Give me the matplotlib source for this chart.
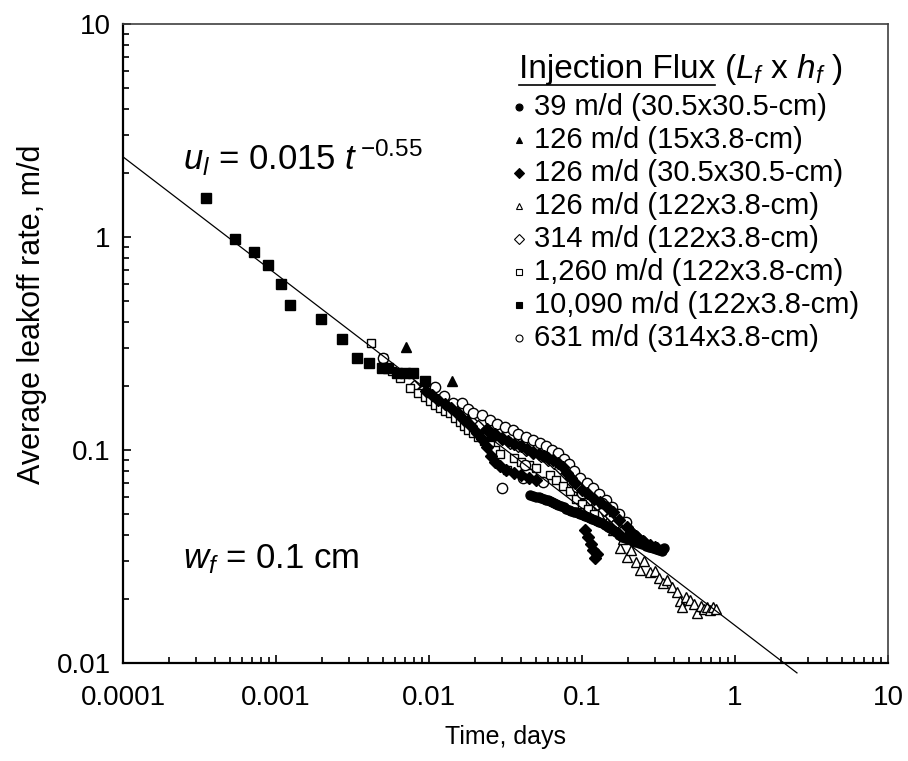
import numpy as np
import matplotlib
matplotlib.use("Agg")
import matplotlib.pyplot as plt

plt.rcParams['font.family'] = ['Liberation Sans', 'DejaVu Sans']
plt.rcParams['mathtext.fontset'] = 'custom'
plt.rcParams['mathtext.rm'] = 'Liberation Sans'
plt.rcParams['mathtext.it'] = 'Liberation Sans:italic'
plt.rcParams['mathtext.bf'] = 'Liberation Sans:bold'

# fitted power law u = a * t^b
fit_a = 0.015
fit_b = -0.55
fit_t_range = [1e-4, 2.54]

# 39 m/d (30.5x30.5-cm) - filled circles
t_39 = [0.046, 0.048, 0.050, 0.052, 0.054, 0.056, 0.058, 0.060, 0.062, 0.064,
        0.066, 0.068, 0.070, 0.073, 0.076, 0.079, 0.082, 0.085, 0.088, 0.091,
        0.094, 0.097, 0.101, 0.105, 0.109, 0.113, 0.117, 0.121, 0.125, 0.130,
        0.135, 0.141, 0.147, 0.153, 0.159, 0.166, 0.174, 0.183, 0.192, 0.201,
        0.211, 0.222, 0.234, 0.247, 0.260, 0.274, 0.289, 0.305, 0.320, 0.335, 0.345]
u_39 = [0.0615, 0.061, 0.0604, 0.060, 0.0596, 0.0591, 0.0585, 0.058, 0.0574, 0.0569,
        0.0564, 0.0558, 0.0552, 0.0545, 0.0538, 0.0531, 0.0524, 0.0518, 0.0513, 0.0509,
        0.0505, 0.0501, 0.0496, 0.0491, 0.0486, 0.0481, 0.0476, 0.0471, 0.0466, 0.0459,
        0.0452, 0.0444, 0.0436, 0.0428, 0.0419, 0.041, 0.0401, 0.0392, 0.0386, 0.0381,
        0.0376, 0.0371, 0.0366, 0.036, 0.0356, 0.0352, 0.0348, 0.0344, 0.034, 0.0337, 0.0345]

# 126 m/d (15x3.8-cm) - filled triangles
t_126a = [0.00708, 0.0141, 0.018, 0.025]
u_126a = [0.305, 0.211, 0.14, 0.118]

# 126 m/d (30.5x30.5-cm) - filled diamonds
t_126b = [0.0095, 0.0105, 0.0115, 0.0127, 0.014, 0.0155, 0.017, 0.0188, 0.0205, 0.0222,
          0.0239, 0.0255, 0.027, 0.029, 0.032, 0.036, 0.040, 0.045, 0.050,
          0.024, 0.027, 0.030, 0.033, 0.036, 0.040, 0.044, 0.048, 0.052, 0.056,
          0.060, 0.065, 0.070, 0.075, 0.080, 0.085, 0.090, 0.100, 0.107, 0.120,
          0.131, 0.145, 0.159, 0.175, 0.196, 0.210, 0.226, 0.250, 0.278, 0.300,
          0.105, 0.110, 0.114, 0.118, 0.1216, 0.125]
u_126b = [0.19, 0.181, 0.172, 0.165, 0.157, 0.148, 0.139, 0.130, 0.120, 0.112,
          0.103, 0.094, 0.0876, 0.084, 0.0805, 0.078, 0.076, 0.0735, 0.0723,
          0.125, 0.119, 0.114, 0.110, 0.107, 0.104, 0.101, 0.098, 0.096, 0.094,
          0.092, 0.090, 0.087, 0.083, 0.078, 0.074, 0.070, 0.065, 0.0625, 0.059,
          0.057, 0.054, 0.051, 0.047, 0.0435, 0.041, 0.0394, 0.0375, 0.0358, 0.035,
          0.042, 0.039, 0.036, 0.034, 0.031, 0.0325]

# 126 m/d (122x3.8-cm) - open triangles
t_126c = [0.095, 0.105, 0.115, 0.13, 0.145, 0.16, 0.177, 0.185, 0.197, 0.21, 0.226, 0.24, 0.255,
          0.28, 0.30, 0.32, 0.338, 0.36, 0.39, 0.42, 0.44, 0.451, 0.48, 0.51, 0.54, 0.565, 0.60,
          0.63, 0.66, 0.69, 0.72, 0.75]
u_126c = [0.062, 0.058, 0.054, 0.050, 0.046, 0.042, 0.0347, 0.038, 0.0315, 0.034, 0.0298, 0.0273,
          0.030, 0.0268, 0.027, 0.025, 0.0237, 0.0245, 0.0228, 0.0216, 0.0195, 0.0183, 0.0205,
          0.0197, 0.019, 0.0172, 0.0185, 0.018, 0.0183, 0.0178, 0.0183, 0.018]

# 314 m/d (122x3.8-cm) - open diamonds
t_314 = [0.008, 0.009, 0.010, 0.0115, 0.013, 0.015, 0.017, 0.019, 0.021, 0.024, 0.027, 0.030,
         0.034, 0.038, 0.043, 0.048, 0.054, 0.060, 0.066, 0.072, 0.079, 0.086, 0.094, 0.103,
         0.113, 0.125, 0.14, 0.155, 0.17, 0.19, 0.21, 0.23, 0.255, 0.28, 0.31]
u_314 = [0.20, 0.19, 0.182, 0.172, 0.162, 0.152, 0.143, 0.136, 0.130, 0.124, 0.117, 0.112,
         0.108, 0.104, 0.100, 0.097, 0.094, 0.090, 0.087, 0.082, 0.077, 0.071, 0.066, 0.062,
         0.059, 0.056, 0.052, 0.049, 0.046, 0.043, 0.041, 0.039, 0.037, 0.0355, 0.0345]

# 1,260 m/d (122x3.8-cm) - open squares
t_1260 = [0.0042, 0.005, 0.0057, 0.0065, 0.0075, 0.0085, 0.0094, 0.0102, 0.0109, 0.0118, 0.0128,
          0.0137, 0.0148, 0.016, 0.017, 0.018, 0.0195, 0.021, 0.023, 0.025, 0.027, 0.029, 0.0324,
          0.036, 0.040, 0.045, 0.050, 0.057, 0.062, 0.068, 0.075, 0.083, 0.092, 0.10, 0.11, 0.12,
          0.159]
u_1260 = [0.317, 0.27, 0.235, 0.217, 0.195, 0.185, 0.178, 0.170, 0.163, 0.157, 0.152,
          0.149, 0.142, 0.136, 0.130, 0.124, 0.120, 0.115, 0.110, 0.106, 0.100, 0.096, 0.0805,
          0.092, 0.088, 0.085, 0.082, 0.0937, 0.076, 0.072, 0.068, 0.064, 0.059, 0.056, 0.053, 0.050,
          0.0512]

# 10,090 m/d (122x3.8-cm) - filled squares
t_10090 = [3.5e-4, 5.4e-4, 7.2e-4, 8.8e-4, 1.07e-3, 1.24e-3, 1.96e-3, 2.68e-3, 3.37e-3, 4.05e-3,
           4.9e-3, 5.4e-3, 6.2e-3, 7.0e-3, 7.9e-3, 9.4e-3]
u_10090 = [1.52, 0.975, 0.85, 0.735, 0.60, 0.48, 0.41, 0.333, 0.271, 0.255,
           0.243, 0.242, 0.231, 0.23, 0.23, 0.211]

# 631 m/d (314x3.8-cm) - open circles
t_631 = [0.005, 0.0109, 0.0125, 0.0144, 0.0164, 0.018, 0.0194, 0.0221, 0.025, 0.028,
         0.0314, 0.0352, 0.0382, 0.043, 0.048, 0.053, 0.058, 0.064, 0.070, 0.076,
         0.082, 0.089, 0.097, 0.107, 0.118, 0.13, 0.143, 0.158, 0.175, 0.195,
         0.030, 0.0424, 0.041, 0.0556, 0.0927, 0.100, 0.135]
u_631 = [0.27, 0.197, 0.18, 0.167, 0.166, 0.155, 0.149, 0.146, 0.138, 0.132,
         0.128, 0.124, 0.119, 0.115, 0.111, 0.108, 0.104, 0.100, 0.097, 0.091,
         0.086, 0.080, 0.074, 0.070, 0.066, 0.062, 0.058, 0.054, 0.050, 0.046,
         0.0664, 0.085, 0.0735, 0.0708, 0.0668, 0.063, 0.0564]

labels = ['39 m/d (30.5x30.5-cm)', '126 m/d (15x3.8-cm)', '126 m/d (30.5x30.5-cm)',
          '126 m/d (122x3.8-cm)', '314 m/d (122x3.8-cm)', '1,260 m/d (122x3.8-cm)',
          '10,090 m/d (122x3.8-cm)', '631 m/d (314x3.8-cm)']

# marker, face colour, size, drawing order
series = [
    (t_39, u_39, 'o', 'black', 6.5, 4),
    (t_126a, u_126a, '^', 'black', 7.5, 3),
    (t_126b, u_126b, 'D', 'black', 5.8, 5),
    (t_126c, u_126c, '^', 'white', 7.5, 2),
    (t_314, u_314, 'D', 'white', 5.8, 2),
    (t_1260, u_1260, 's', 'white', 6.2, 2),
    (t_10090, u_10090, 's', 'black', 7.2, 3),
    (t_631, u_631, 'o', 'white', 7.4, 2),
]

fig = plt.figure(figsize=(9.08, 7.61), dpi=100)
ax = fig.add_axes([0.1355, 0.1288, 0.8425, 0.8397])

for t, u, mk, fc, ms, z in series:
    ax.plot(t, u, ls='none', marker=mk, ms=ms, mfc=fc, mec='black', mew=1.0, zorder=z)

tf = np.array(fit_t_range)
ax.plot(tf, fit_a * tf ** fit_b, color='black', lw=0.9, zorder=6, clip_on=False)

ax.set_xscale('log')
ax.set_yscale('log')
ax.set_xlim(1e-4, 10)
ax.set_ylim(0.01, 10)
ax.set_xticks([1e-4, 1e-3, 1e-2, 0.1, 1, 10])
ax.set_xticklabels(['0.0001', '0.001', '0.01', '0.1', '1', '10'])
ax.set_yticks([0.01, 0.1, 1, 10])
ax.set_yticklabels(['0.01', '0.1', '1', '10'])
ax.tick_params(which='both', direction='in', top=False, right=False, width=1.2)
ax.tick_params(which='major', length=6)
ax.tick_params(which='minor', length=4.5)
ax.tick_params(axis='x', which='major', labelsize=20, pad=16)
ax.tick_params(axis='y', which='major', labelsize=20, pad=9)
ax.tick_params(which='minor', labelleft=False, labelbottom=False)

for s in ['left', 'bottom']:
    ax.spines[s].set_linewidth(1.6)
for s in ['top', 'right']:
    ax.spines[s].set_linewidth(1.2)
    ax.spines[s].set_color('#404040')

ax.set_xlabel('Time, days', fontsize=18, labelpad=10)
ax.set_ylabel('Average leakoff rate, m/d', fontsize=22)
ax.yaxis.set_label_coords(-0.1, 0.545)

# equation and fracture width
ax.text(0.078, 0.7715, r'$u_l$ = 0.015 $t^{\,\mathrm{-0.55}}$', transform=ax.transAxes,
        fontsize=25, va='baseline')
ax.text(0.078, 0.1487, r'$w_f$ = 0.1 cm', transform=ax.transAxes, fontsize=25, va='baseline')

# legend drawn by hand
t1 = ax.text(0.5176, 0.928, 'Injection Flux', transform=ax.transAxes, fontsize=24, va='center')
ax.annotate(r' ($L_f$ x $h_f$ )', xy=(1, 0.5), xycoords=t1, va='center', ha='left', fontsize=24)
fig.canvas.draw()
bb = t1.get_window_extent().transformed(fig.transFigure.inverted())
fig.add_artist(plt.Line2D([bb.x0, bb.x1], [bb.y0 + 0.001, bb.y0 + 0.001], color='black', lw=1.2))

row_y0 = 663 - 107
for i, (lab, (t, u, mk, fc, ms, z)) in enumerate(zip(labels, series)):
    y = (row_y0 - 33 * i) / 639
    ax.plot([0.5176], [y], transform=ax.transAxes, ls='none', marker=mk, ms=5, mfc=fc,
            mec='black', mew=0.8, clip_on=False)
    ax.text(0.5373, y, lab, transform=ax.transAxes, fontsize=21, va='center')

fig.savefig('out.png', dpi=100)
